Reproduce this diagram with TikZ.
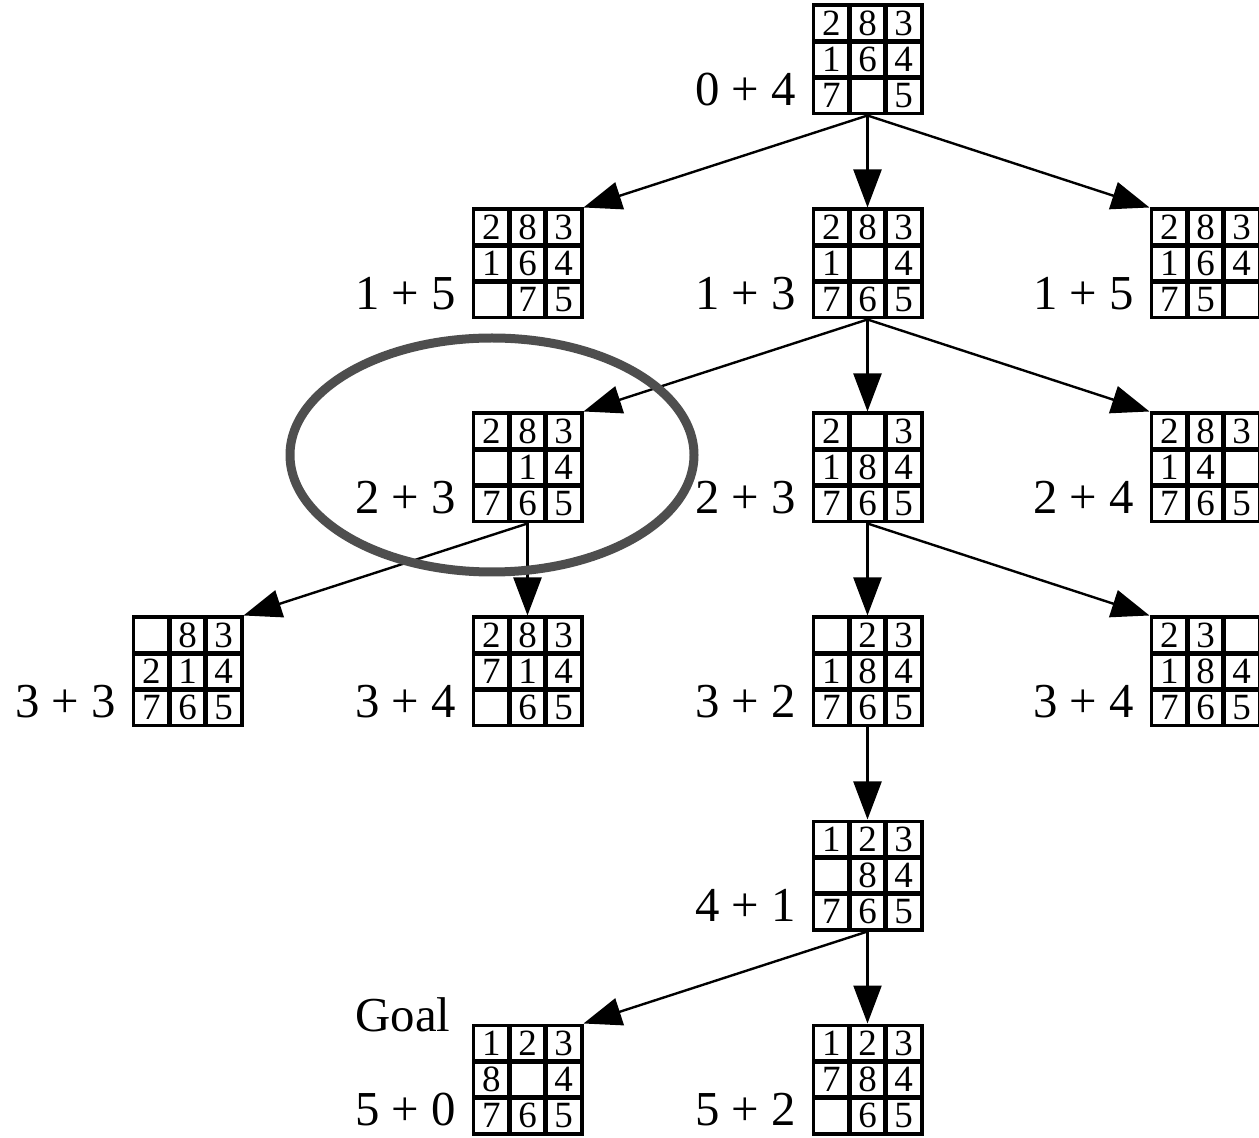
\documentclass[tikz,border=0pt]{standalone}
\usepackage{fontspec}
\setmainfont{Liberation Serif}
\usetikzlibrary{matrix,arrows.meta,positioning}
\definecolor{ringgray}{HTML}{4E4E4E}
\tikzset{
  board/.style={matrix of nodes,nodes in empty cells,draw,line width=1.7pt,inner sep=0pt,
    column sep=0pt,row sep=0pt,
    nodes={draw,line width=1.1pt,minimum size=17pt,inner sep=0pt,outer sep=0pt,
      anchor=center,font=\fontsize{18.5}{20}\selectfont}},
  lbl/.style={font=\fontsize{24.4}{28}\selectfont,inner sep=0pt,anchor=base east},
  arr/.style={-{Triangle[length=19pt,width=14pt]},line width=1.2pt}
}
\begin{document}
\begin{tikzpicture}[x=0.5pt,y=-0.5pt]
\useasboundingbox (0,0) rectangle (1259,1138);
% boards
\matrix (n04) [board] at (867.5,59.5) {2&8&3\\1&6&4\\7&&5\\};
\matrix (n15a) [board] at (527.5,263.5) {2&8&3\\1&6&4\\&7&5\\};
\matrix (n13) [board] at (867.5,263.5) {2&8&3\\1&&4\\7&6&5\\};
\matrix (n15b) [board] at (1205.5,263.5) {2&8&3\\1&6&4\\7&5&\\};
\matrix (n23a) [board] at (527.5,467.5) {2&8&3\\&1&4\\7&6&5\\};
\matrix (n23b) [board] at (867.5,467.5) {2&&3\\1&8&4\\7&6&5\\};
\matrix (n24) [board] at (1205.5,467.5) {2&8&3\\1&4&\\7&6&5\\};
\matrix (n33) [board] at (187.5,671.5) {&8&3\\2&1&4\\7&6&5\\};
\matrix (n34a) [board] at (527.5,671.5) {2&8&3\\7&1&4\\&6&5\\};
\matrix (n32) [board] at (867.5,671.5) {&2&3\\1&8&4\\7&6&5\\};
\matrix (n34b) [board] at (1205.5,671.5) {2&3&\\1&8&4\\7&6&5\\};
\matrix (n41) [board] at (867.5,875.5) {1&2&3\\&8&4\\7&6&5\\};
\matrix (n50) [board] at (527.5,1079.5) {1&2&3\\8&&4\\7&6&5\\};
\matrix (n52) [board] at (867.5,1079.5) {1&2&3\\7&8&4\\&6&5\\};
% labels
\node[lbl] (l04) at ([xshift=-7.5pt,yshift=5pt]n04.south west) {0 + 4};
\node[lbl] (l15a) at ([xshift=-7.5pt,yshift=5pt]n15a.south west) {1 + 5};
\node[lbl] (l13) at ([xshift=-7.5pt,yshift=5pt]n13.south west) {1 + 3};
\node[lbl] (l15b) at ([xshift=-7.5pt,yshift=5pt]n15b.south west) {1 + 5};
\node[lbl] (l23a) at ([xshift=-7.5pt,yshift=5pt]n23a.south west) {2 + 3};
\node[lbl] (l23b) at ([xshift=-7.5pt,yshift=5pt]n23b.south west) {2 + 3};
\node[lbl] (l24) at ([xshift=-7.5pt,yshift=5pt]n24.south west) {2 + 4};
\node[lbl] (l33) at ([xshift=-7.5pt,yshift=5pt]n33.south west) {3 + 3};
\node[lbl] (l34a) at ([xshift=-7.5pt,yshift=5pt]n34a.south west) {3 + 4};
\node[lbl] (l32) at ([xshift=-7.5pt,yshift=5pt]n32.south west) {3 + 2};
\node[lbl] (l34b) at ([xshift=-7.5pt,yshift=5pt]n34b.south west) {3 + 4};
\node[lbl] (l41) at ([xshift=-7.5pt,yshift=5pt]n41.south west) {4 + 1};
\node[lbl] (l50) at ([xshift=-7.5pt,yshift=5pt]n50.south west) {5 + 0};
\node[lbl] (l52) at ([xshift=-7.5pt,yshift=5pt]n52.south west) {5 + 2};
\node[lbl,anchor=base west] (goal) at ([yshift=47pt]l50.base west) {Goal};
% search edges
\draw[arr] (n04.south) -- (n15a.north east);
\draw[arr] (n04.south) -- (n13.north);
\draw[arr] (n04.south) -- (n15b.north west);
\draw[arr] (n13.south) -- (n23a.north east);
\draw[arr] (n13.south) -- (n23b.north);
\draw[arr] (n13.south) -- (n24.north west);
\draw[arr] (n23a.south) -- (n33.north east);
\draw[arr] (n23a.south) -- (n34a.north);
\draw[arr] (n23b.south) -- (n32.north);
\draw[arr] (n23b.south) -- (n34b.north west);
\draw[arr] (n32.south) -- (n41.north);
\draw[arr] (n41.south) -- (n50.north east);
\draw[arr] (n41.south) -- (n52.north);
% highlighted node
\draw[ringgray,line width=4.5pt] (492,455) ellipse [x radius=202,y radius=117];
\end{tikzpicture}
\end{document}
